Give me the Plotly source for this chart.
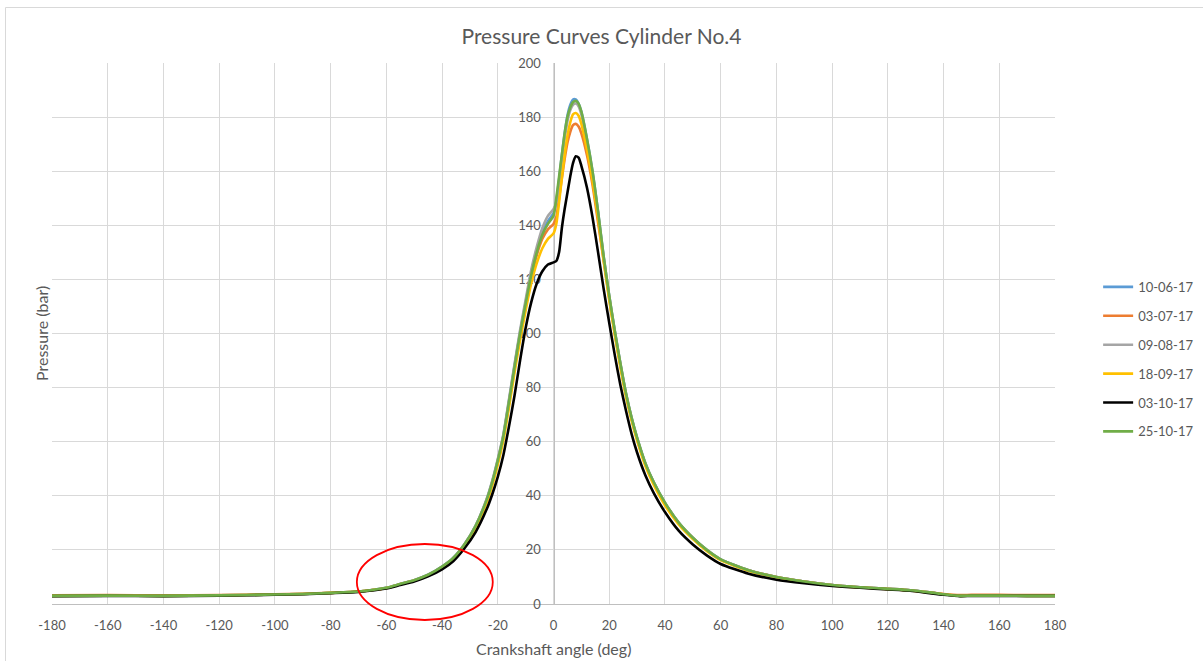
import plotly.graph_objects as go

# Crank angle (deg) sample points shared by every measurement
angle_deg = [-180, -160, -140, -120, -100, -90, -80, -70, -60, -55, -50, -45, -40,
             -36, -32, -28, -24, -22, -20, -18, -16, -14, -12, -10, -8, -6, -4, -2,
             0, 1, 2, 3, 4, 5, 6, 7, 8, 9, 10, 12, 14, 16, 18, 20, 22, 24, 26, 28,
             30, 33, 36, 40, 45, 50, 55, 60, 70, 80, 90, 100, 110, 120, 128, 135,
             140, 146, 150, 160, 170, 180]

# Cylinder pressure (bar) per measurement date
p_10_06_17 = [3.0, 3.1, 3.0, 3.2, 3.5, 3.7, 4.1, 4.6, 6.0, 7.4, 8.8, 10.8, 13.8,
              17.0, 22.0, 28.8, 38.6, 45.2, 53.2, 62.3, 75.0, 88.0, 100.5, 111.5, 122.5, 131.0, 137.5, 141.5,
              144.5, 149.0, 157.0, 166.0, 174.0, 180.5, 184.5, 186.5, 186.5, 185.0, 182.0, 172.0, 160.0, 145.0, 128.5, 114.0, 101.0, 89.0, 78.0, 69.0,
              61.5, 52.0, 45.0, 37.5, 30.0, 24.5, 20.0, 16.5, 12.5, 10.0, 8.3, 7.0, 6.2, 5.6, 5.1, 4.3,
              3.6, 3.0, 3.1, 3.1, 3.0, 3.0]

p_03_07_17 = [3.2, 3.3, 3.2, 3.3, 3.6, 3.8, 4.1, 4.6, 5.9, 7.3, 8.7, 10.7, 13.6,
              16.8, 21.8, 28.5, 38.2, 44.6, 52.5, 61.5, 74.0, 86.8, 99.2, 110.2, 120.5, 129.0, 135.0, 138.5,
              140.5, 143.0, 150.0, 157.5, 164.5, 170.5, 174.5, 177.0, 177.5, 176.5, 174.0, 166.0, 155.0, 141.0, 127.0, 113.0, 100.0, 88.3, 77.4, 68.5,
              61.0, 51.6, 44.6, 37.2, 29.8, 24.4, 19.9, 16.4, 12.5, 10.0, 8.3, 7.0, 6.2, 5.6, 5.1, 4.3,
              3.7, 3.3, 3.4, 3.4, 3.3, 3.3]

p_09_08_17 = [3.0, 3.1, 3.0, 3.2, 3.5, 3.7, 4.1, 4.6, 6.0, 7.4, 8.8, 10.8, 13.8,
              17.0, 22.0, 28.9, 38.8, 45.5, 53.6, 62.8, 75.5, 88.6, 101.2, 112.5, 123.5, 132.0, 139.0, 143.5,
              146.0, 148.5, 156.0, 164.5, 172.0, 178.5, 182.5, 184.5, 185.0, 184.0, 181.0, 171.0, 159.0, 144.5, 128.0, 113.8, 100.8, 88.8, 77.8, 68.8,
              61.3, 51.9, 44.9, 37.4, 29.9, 24.4, 20.0, 16.5, 12.5, 10.0, 8.3, 7.0, 6.2, 5.6, 5.1, 4.3,
              3.6, 3.0, 3.1, 3.1, 3.0, 3.0]

p_18_09_17 = [3.0, 3.1, 3.0, 3.2, 3.5, 3.7, 4.1, 4.6, 5.9, 7.3, 8.7, 10.6, 13.5,
              16.6, 21.5, 28.0, 37.5, 43.8, 51.5, 60.5, 72.5, 85.5, 97.5, 108.5, 118.5, 126.0, 131.5, 135.0,
              137.0, 140.5, 148.5, 157.5, 166.0, 173.0, 178.0, 181.0, 181.5, 180.5, 177.5, 168.0, 156.5, 142.5, 127.0, 112.5, 99.5, 87.5, 76.8, 68.0,
              60.5, 51.0, 44.0, 36.5, 29.3, 24.0, 19.6, 16.2, 12.3, 9.9, 8.2, 6.9, 6.1, 5.5, 5.0, 4.2,
              3.6, 3.0, 3.1, 3.1, 3.0, 3.0]

p_03_10_17 = [2.9, 3.0, 2.9, 3.1, 3.4, 3.6, 4.0, 4.5, 5.7, 7.0, 8.3, 10.2, 12.8,
              15.8, 20.5, 26.5, 35.0, 40.5, 47.0, 55.0, 65.5, 77.0, 90.0, 102.0, 111.5, 118.5, 123.0, 125.5,
              126.3, 126.8, 130.0, 139.0, 146.0, 152.0, 158.0, 163.0, 165.5, 165.0, 162.0, 154.0, 143.0, 130.0, 116.5, 104.0, 92.0, 81.0, 71.5, 63.0,
              56.0, 47.5, 41.0, 34.0, 27.0, 22.0, 18.0, 14.8, 11.2, 9.0, 7.7, 6.7, 6.0, 5.4, 4.9, 4.0,
              3.4, 2.9, 3.0, 3.0, 3.0, 3.0]

p_25_10_17 = [3.0, 3.1, 3.0, 3.2, 3.5, 3.7, 4.1, 4.6, 6.0, 7.4, 8.8, 10.8, 13.8,
              17.0, 22.0, 28.8, 38.5, 45.0, 53.0, 62.0, 74.5, 87.5, 100.0, 111.0, 121.5, 130.0, 136.5, 140.5,
              143.5, 150.0, 158.0, 166.0, 174.0, 180.0, 183.5, 185.5, 186.0, 185.0, 182.0, 172.0, 160.0, 145.0, 128.5, 114.0, 101.0, 89.0, 78.0, 69.0,
              61.5, 52.0, 45.0, 37.5, 30.0, 24.5, 20.0, 16.5, 12.5, 10.0, 8.3, 7.0, 6.2, 5.6, 5.1, 4.3,
              3.6, 3.0, 3.1, 3.1, 3.0, 3.0]

series_names = ["10-06-17", "03-07-17", "09-08-17", "18-09-17", "03-10-17", "25-10-17"]
series_values = [p_10_06_17, p_03_07_17, p_09_08_17, p_18_09_17, p_03_10_17, p_25_10_17]
series_colors = ["#5B9BD5", "#ED7D31", "#A5A5A5", "#FFC000", "#000000", "#70AD47"]

x_ticks = list(range(-180, 181, 20))
y_ticks = list(range(0, 201, 20))

TEXT = "#595959"
GRID = "#D9D9D9"
FONT = "Lato, 'Open Sans', sans-serif"

fig = go.Figure()
for name, vals, col in zip(series_names, series_values, series_colors):
    fig.add_trace(go.Scatter(
        x=angle_deg, y=vals, name=name, mode="lines",
        legendgroup=name,
        line=dict(color=col, width=2.6, shape="spline", smoothing=0.6),
    ))

W, H = 1203, 661
L, R, T, B = 52, 147.5, 63, 57

fig.update_layout(
    width=W, height=H,
    margin=dict(l=L, r=R, t=T, b=B, pad=0, autoexpand=False),
    paper_bgcolor="white", plot_bgcolor="white",
    font=dict(family=FONT, color=TEXT, size=13),
    title=dict(text="Pressure Curves Cylinder No.4", x=0.5, xref="container",
               xanchor="center", y=1 - 37 / H, yref="container", yanchor="middle",
               font=dict(size=21, color=TEXT, family=FONT)),
    showlegend=True,
    legend=dict(x=1.043, xanchor="left", y=0.452, yanchor="middle",
                font=dict(size=13, color=TEXT), traceorder="grouped",
                tracegroupgap=9, itemwidth=30, bgcolor="rgba(0,0,0,0)"),
    xaxis=dict(range=[-180, 180], tickvals=x_ticks, ticktext=[str(v) for v in x_ticks],
               showgrid=True, gridcolor=GRID, gridwidth=1, automargin=False,
               zeroline=False, showline=True, linecolor="#BFBFBF", linewidth=1,
               ticks="", ticklabelstandoff=9, tickfont=dict(size=13, color=TEXT),
               layer="below traces", fixedrange=True),
    yaxis=dict(range=[0, 200], tickvals=y_ticks, ticktext=[str(v) for v in y_ticks],
               showgrid=True, gridcolor=GRID, gridwidth=1, automargin=False,
               zeroline=False, showline=True, linecolor="#BFBFBF", linewidth=1,
               anchor="free", position=0.5, side="left",
               ticks="", ticklabelstandoff=10, tickfont=dict(size=13, color=TEXT),
               layer="below traces", fixedrange=True),
)

pw = W - L - R
ph = H - T - B

def px_x(p):
    return (p - L) / pw

def px_y(p):
    return (H - B - p) / ph

# chart frame
fig.add_shape(type="rect", xref="paper", yref="paper",
              x0=px_x(5.5), x1=px_x(W + 40), y0=px_y(H + 40), y1=px_y(7.5),
              line=dict(color="#D9D9D9", width=1), fillcolor="rgba(0,0,0,0)", layer="below")

# axis titles
fig.add_annotation(text="Pressure (bar)", xref="paper", yref="paper",
                   x=px_x(41), y=px_y(334), textangle=-90, showarrow=False,
                   xanchor="center", yanchor="middle",
                   font=dict(size=16, color=TEXT, family=FONT))
fig.add_annotation(text="Crankshaft angle (deg)", xref="paper", yref="paper",
                   x=px_x(554), y=px_y(648), showarrow=False,
                   xanchor="center", yanchor="middle",
                   font=dict(size=16, color=TEXT, family=FONT))

# highlight ring around the compression region
fig.add_shape(type="circle", xref="paper", yref="paper",
              x0=px_x(357), x1=px_x(493), y0=px_y(620), y1=px_y(544),
              line=dict(color="#FF0000", width=1.8), fillcolor="rgba(0,0,0,0)", layer="above")

fig.write_html("out.html")
